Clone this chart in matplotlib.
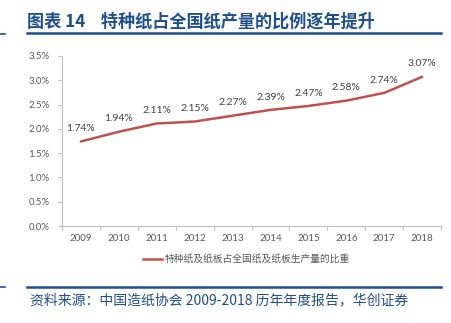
import matplotlib.pyplot as plt
from matplotlib.lines import Line2D

plt.rcParams['font.family'] = ['Noto Sans CJK SC', 'DejaVu Sans']
plt.rcParams['axes.unicode_minus'] = False

# 數據
years = ['2009', '2010', '2011', '2012', '2013', '2014', '2015', '2016', '2017', '2018']
share = [1.74, 1.94, 2.11, 2.15, 2.27, 2.39, 2.47, 2.58, 2.74, 3.07]
yticks = [0.0, 0.5, 1.0, 1.5, 2.0, 2.5, 3.0, 3.5]
series_name = '特种纸及纸板占全国纸及纸板生产量的比重'

title = '图表 14    特种纸占全国纸产量的比例逐年提升'
source = '资料来源：中国造纸协会 2009-2018 历年年度报告，华创证券'

navy = '#1F4E8C'
red = '#C0504D'
grey = '#595959'
axis_col = '#BFBFBF'
num_font = ['Lato', 'DejaVu Sans']

fig = plt.figure(figsize=(4.52, 3.23), dpi=100)
ax = fig.add_axes([0.137, 0.300, 0.839, 0.527])

x = range(len(years))
ax.plot(x, share, color=red, lw=1.8, solid_capstyle='round')
for xi, v in zip(x, share):
    ax.annotate(f'{v:.2f}%', (xi, v), xytext=(0, 6), textcoords='offset points',
                ha='center', va='bottom', fontsize=7.5, color='#404040',
                family=num_font)

ax.set_xlim(-0.5, len(years) - 0.5)
ax.set_ylim(0, 3.5)
ax.set_yticks(yticks)
ax.set_yticklabels([f'{t:.1f}%' for t in yticks], family=num_font)
ax.set_xticks([i + 0.5 for i in range(-1, len(years))])
ax.set_xticklabels([])
ax.set_xticks(list(x), minor=True)
ax.set_xticklabels(years, minor=True, family=num_font)
ax.tick_params(axis='x', which='minor', length=0, pad=6, labelsize=7, labelcolor=grey)
ax.tick_params(axis='x', which='major', length=3, color=axis_col, direction='out')
ax.tick_params(axis='y', length=3, color=axis_col, labelsize=7, labelcolor=grey, pad=6)

for s in ['top', 'right']:
    ax.spines[s].set_visible(False)
for s in ['left', 'bottom']:
    ax.spines[s].set_color(axis_col)
    ax.spines[s].set_linewidth(0.8)

# 圖例
handle = Line2D([0], [0], color=red, lw=1.8)
fig.legend([handle], [series_name], loc='center', bbox_to_anchor=(0.545, 0.198),
           frameon=False, fontsize=7, handlelength=2.0, handletextpad=0.2,
           labelcolor=grey)

# 標題與分隔線
fig.text(0.06, 0.934, title, fontsize=12.3, fontweight='bold', color=navy,
         ha='left', va='center')
fig.add_artist(Line2D([0.06, 0.976], [0.897, 0.897], color=navy, lw=1.8))
fig.add_artist(Line2D([0.0, 0.012], [0.895, 0.895], color=navy, lw=1.2))
fig.add_artist(Line2D([0.06, 0.976], [0.111, 0.111], color=navy, lw=1.8))
fig.add_artist(Line2D([0.0, 0.012], [0.111, 0.111], color=navy, lw=1.2))
fig.text(0.066, 0.071, source, fontsize=10, color=navy, style='italic',
         ha='left', va='center')

fig.savefig('out.png', dpi=100)
